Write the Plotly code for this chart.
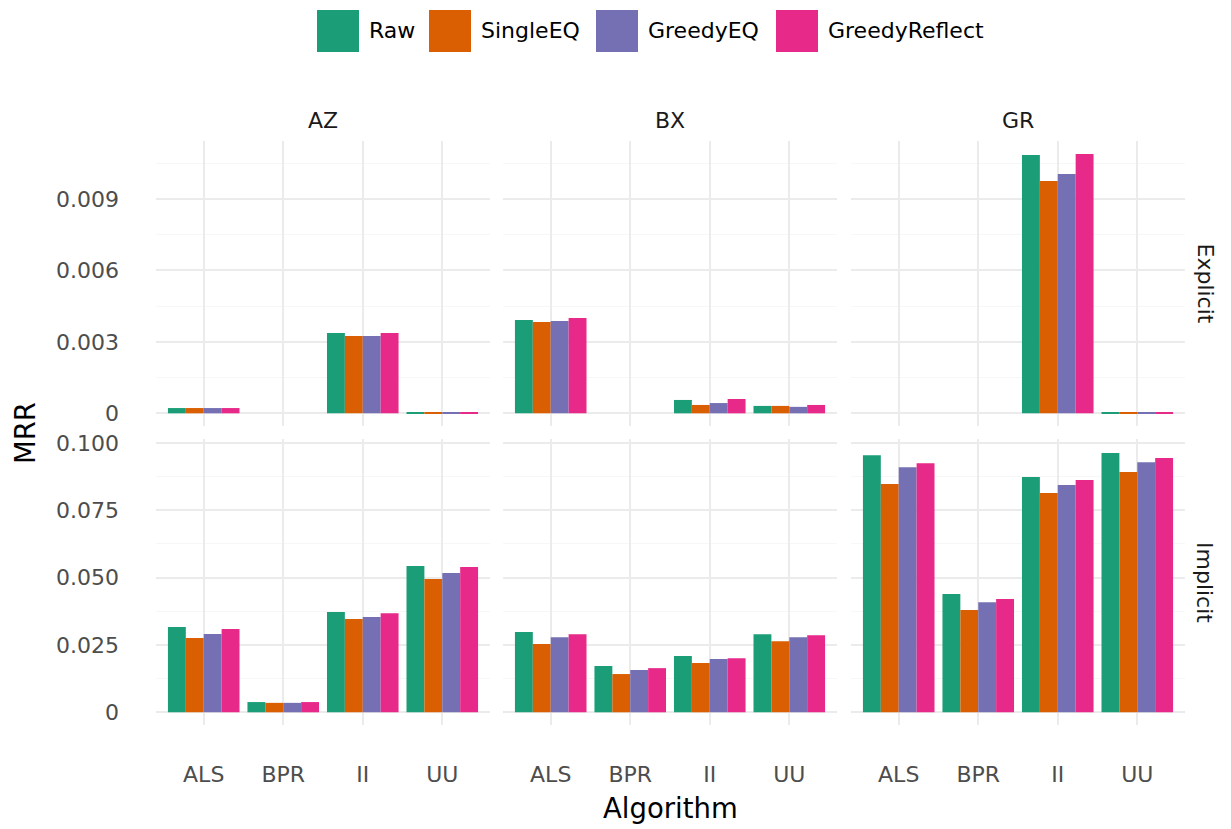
import plotly.graph_objects as go

W, H = 1231, 829

algorithms = ["ALS", "BPR", "II", "UU"]
datasets = ["AZ", "BX", "GR"]
kinds = ["Explicit", "Implicit"]
methods = ["Raw", "SingleEQ", "GreedyEQ", "GreedyReflect"]
colors = ["#1B9E77", "#D95F02", "#7570B3", "#E7298A"]

# Explicit feedback MRR (None = no bar)
raw_explicit = {"AZ": [0.00022, None, 0.00337, 0.00005],
                "BX": [0.00391, None, 0.00056, 0.00031],
                "GR": [None, None, 0.01084, 0.00005]}
singleeq_explicit = {"AZ": [0.00022, None, 0.00324, 0.00005],
                     "BX": [0.00383, None, 0.00035, 0.00031],
                     "GR": [None, None, 0.00975, 0.00002]}
greedyeq_explicit = {"AZ": [0.00022, None, 0.00324, 0.00005],
                     "BX": [0.00387, None, 0.00043, 0.00027],
                     "GR": [None, None, 0.01004, 0.00005]}
greedyreflect_explicit = {"AZ": [0.00022, None, 0.00337, 0.00005],
                          "BX": [0.00400, None, 0.00060, 0.00035],
                          "GR": [None, None, 0.01088, 0.00005]}

# Implicit feedback MRR
raw_implicit = {"AZ": [0.0317, 0.0038, 0.0372, 0.0543],
                "BX": [0.0298, 0.0172, 0.0209, 0.0290],
                "GR": [0.0955, 0.0439, 0.0874, 0.0963]}
singleeq_implicit = {"AZ": [0.0276, 0.0035, 0.0346, 0.0495],
                     "BX": [0.0254, 0.0142, 0.0183, 0.0264],
                     "GR": [0.0848, 0.0380, 0.0814, 0.0892]}
greedyeq_implicit = {"AZ": [0.0291, 0.0035, 0.0354, 0.0517],
                     "BX": [0.0279, 0.0157, 0.0198, 0.0279],
                     "GR": [0.0910, 0.0409, 0.0844, 0.0929]}
greedyreflect_implicit = {"AZ": [0.0309, 0.0038, 0.0368, 0.0540],
                          "BX": [0.0290, 0.0164, 0.0201, 0.0286],
                          "GR": [0.0925, 0.0421, 0.0863, 0.0944]}

explicit_series = [raw_explicit, singleeq_explicit, greedyeq_explicit, greedyreflect_explicit]
implicit_series = [raw_implicit, singleeq_implicit, greedyeq_implicit, greedyreflect_implicit]

explicit_ticks = [0, 0.003, 0.006, 0.009]
explicit_ticktext = ["0", "0.003", "0.006", "0.009"]
implicit_ticks = [0, 0.025, 0.05, 0.075, 0.1]
implicit_ticktext = ["0", "0.025", "0.050", "0.075", "0.100"]

FONT = "DejaVu Sans"

# panel pixel boxes (target screen pixels)
col_px = [(156, 490), (503, 837), (851, 1185)]
row_px = [(141, 426), (439, 725)]
row_ranges = [[-0.000533, 0.011425], [-0.00472, 0.10149]]

# observed vertical mapping of the rendered page: screen_y = Y_OFF + screen scale
Y_OFF, H_EFF = 8, 821


def px_x(a):
    return a / W


def px_y(p):
    return 1 - (p - Y_OFF) / H_EFF


def xd(a, b):
    return [px_x(a), px_x(b)]


def yd(top, bot):
    return [px_y(bot), px_y(top)]


fig = go.Figure()
layout = dict(
    width=W, height=H, autosize=False,
    margin=dict(l=0, r=0, t=0, b=0),
    paper_bgcolor="white", plot_bgcolor="white",
    barmode="group", bargap=0.1, bargroupgap=0,
    showlegend=False,
    font=dict(family=FONT, size=22, color="#1a1a1a"),
)

annotations = []
shapes = []

idx = 0
for r, kind in enumerate(kinds):
    series = explicit_series if r == 0 else implicit_series
    for c, ds in enumerate(datasets):
        idx += 1
        xa = "x" if idx == 1 else f"x{idx}"
        ya = "y" if idx == 1 else f"y{idx}"
        for m, name in enumerate(methods):
            fig.add_trace(go.Bar(
                x=algorithms, y=series[m][ds], name=name,
                marker=dict(color=colors[m], line=dict(width=0)),
                xaxis=xa, yaxis=ya, legendgroup=name, showlegend=False,
            ))
        xkey = "xaxis" if idx == 1 else f"xaxis{idx}"
        ykey = "yaxis" if idx == 1 else f"yaxis{idx}"
        layout[xkey] = dict(
            domain=xd(*col_px[c]), anchor=ya,
            type="category", categoryorder="array", categoryarray=algorithms,
            range=[-0.6, 3.6],
            showgrid=True, gridcolor="#EBEBEB", gridwidth=2,
            zeroline=False, showline=False, ticks="",
            showticklabels=(r == 1),
            tickfont=dict(family=FONT, size=22, color="#4D4D4D"),
            ticklabelstandoff=34,
            fixedrange=True,
        )
        layout[ykey] = dict(
            domain=yd(*row_px[r]), anchor=xa,
            range=row_ranges[r],
            tickmode="array",
            tickvals=explicit_ticks if r == 0 else implicit_ticks,
            ticktext=explicit_ticktext if r == 0 else implicit_ticktext,
            showgrid=True, gridcolor="#EBEBEB", gridwidth=2,
            zeroline=False, showline=False, ticks="",
            showticklabels=(c == 0),
            tickfont=dict(family=FONT, size=22, color="#4D4D4D"),
            ticklabelstandoff=36,
            minor=dict(showgrid=True, gridcolor="#F7F7F7", gridwidth=1,
                       tickmode="array",
                       tickvals=([0.0015, 0.0045, 0.0075, 0.0105] if r == 0
                                 else [0.0125, 0.0375, 0.0625, 0.0875])),
            fixedrange=True,
        )

# strip labels (columns)
for c, ds in enumerate(datasets):
    cx = (col_px[c][0] + col_px[c][1]) / 2
    annotations.append(dict(text=ds, x=px_x(cx), y=px_y(120), xref="paper", yref="paper",
                            showarrow=False, xanchor="center", yanchor="middle",
                            font=dict(family=FONT, size=22, color="#1a1a1a")))
# strip labels (rows)
for r, kind in enumerate(kinds):
    cy = (row_px[r][0] + row_px[r][1]) / 2
    annotations.append(dict(text=kind, x=px_x(1205), y=px_y(cy), xref="paper", yref="paper",
                            showarrow=False, xanchor="center", yanchor="middle", textangle=90,
                            font=dict(family=FONT, size=22, color="#1a1a1a")))

# axis titles
annotations.append(dict(text="Algorithm", x=px_x((col_px[0][0] + col_px[2][1]) / 2), y=px_y(808),
                        xref="paper", yref="paper", showarrow=False,
                        xanchor="center", yanchor="middle",
                        font=dict(family=FONT, size=27.5, color="black")))
annotations.append(dict(text="MRR", x=px_x(25), y=px_y(433),
                        xref="paper", yref="paper", showarrow=False, textangle=-90,
                        xanchor="center", yanchor="middle",
                        font=dict(family=FONT, size=27.5, color="black")))

# legend (keys drawn as squares, labels as text)
legend_key_x = [317, 429, 596, 776]
for m, name in enumerate(methods):
    x0 = legend_key_x[m]
    shapes.append(dict(type="rect", xref="paper", yref="paper",
                       x0=px_x(x0), x1=px_x(x0 + 42), y0=px_y(52), y1=px_y(10),
                       fillcolor=colors[m], line=dict(width=0)))
    annotations.append(dict(text=name, x=px_x(x0 + 50), y=px_y(30),
                            xref="paper", yref="paper", showarrow=False,
                            xanchor="left", yanchor="middle",
                            font=dict(family=FONT, size=22, color="black")))

layout["annotations"] = annotations
layout["shapes"] = shapes
fig.update_layout(**layout)

fig.write_html("out.html")
